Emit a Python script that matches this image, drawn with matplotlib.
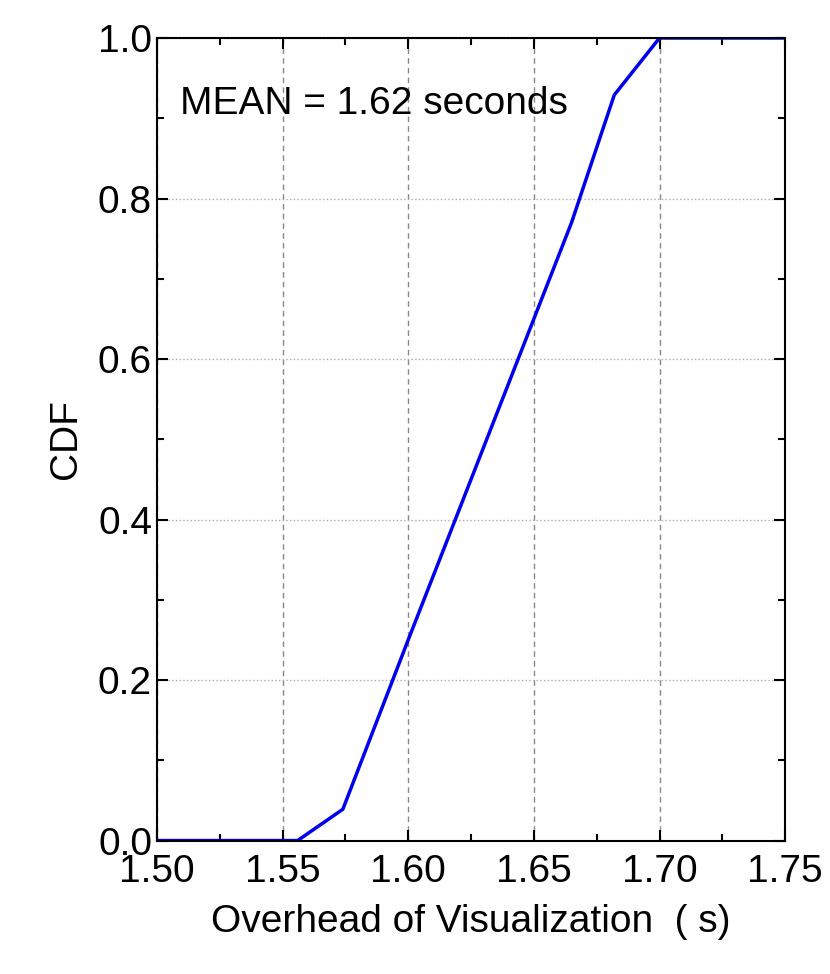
import matplotlib.pyplot as plt
from matplotlib.ticker import MultipleLocator

# CDF of visualization overhead
overhead = [1.50, 1.556, 1.574, 1.600, 1.630, 1.665, 1.682, 1.700, 1.750]
cdf = [0.0, 0.0, 0.039, 0.25, 0.49, 0.77, 0.929, 1.0, 1.0]

plt.rcParams['font.family'] = ['Liberation Sans', 'DejaVu Sans']
fig = plt.figure(figsize=(8.30, 9.74), dpi=100)
ax = fig.add_axes([0.189, 0.137, 0.757, 0.824])

ax.plot(overhead, cdf, color='#0000ee', lw=2.5)
ax.set_xlim(1.50, 1.75)
ax.set_ylim(0, 1.0)
ax.xaxis.set_major_locator(MultipleLocator(0.05))
ax.xaxis.set_minor_locator(MultipleLocator(0.025))
ax.yaxis.set_major_locator(MultipleLocator(0.2))
ax.yaxis.set_minor_locator(MultipleLocator(0.1))
ax.set_xticklabels([f'{v:.2f}' for v in ax.get_xticks()])
ax.set_yticklabels([f'{v:.1f}' for v in ax.get_yticks()])

ax.xaxis.grid(True, ls=(0, (4, 3)), color='#888888', lw=1)
ax.yaxis.grid(True, ls=':', color='#aaaaaa', lw=1)
ax.tick_params(which='both', direction='in', top=True, right=True, labelsize=28, width=1.5)
ax.tick_params(which='major', length=8)
ax.tick_params(which='minor', length=5)
ax.tick_params(axis='x', pad=10)
for s in ax.spines.values():
    s.set_linewidth(1.5)

ax.set_xlabel('Overhead of Visualization  ( s)', fontsize=28, labelpad=10)
ax.set_ylabel('CDF', fontsize=28, labelpad=10)
ax.text(0.037, 0.905, 'MEAN = 1.62 seconds', transform=ax.transAxes, fontsize=28)

fig.savefig('out.png')
